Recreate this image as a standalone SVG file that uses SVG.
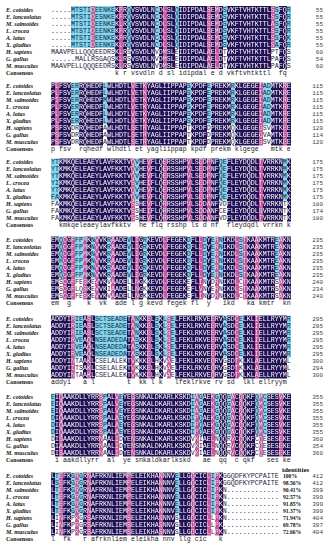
<svg xmlns="http://www.w3.org/2000/svg" xmlns:xlink="http://www.w3.org/1999/xlink" width="332" height="550" viewBox="0 0 332 550" xml:space="preserve">
<style>
.lb{font-family:"Liberation Serif",serif;font-size:6px;font-weight:bold;font-style:italic;fill:#111}
.cl{font-family:"Liberation Serif",serif;font-size:6px;font-weight:bold;fill:#111}
#seqrows text,.cs{font-family:"Liberation Mono",monospace;font-size:6.667px;white-space:pre}
.cs{fill:#222}
.nm{font-family:"Liberation Mono",monospace;font-size:6px;fill:#444;text-anchor:end}
.pc{font-family:"Liberation Serif",serif;font-size:5.6px;font-weight:bold;fill:#111}
.hd{font-family:"Liberation Serif",serif;font-size:7px;font-weight:bold;fill:#111}
.cy{fill:#82d8f1}
</style>
<defs>
<g id="navyR">
<g transform="translate(0,6)"><rect x="115" width="4" height="63"/><rect x="123" width="4" height="63"/><rect x="131" width="24" height="63"/><rect x="159" width="4" height="63"/><rect x="167" width="8" height="63"/><rect x="179" width="28" height="63"/><rect x="211" width="4" height="63"/><rect x="219" width="4" height="63"/><rect x="227" width="44" height="63"/><rect x="279" width="8" height="63"/></g>
<g transform="translate(0,82.5)"><rect x="51" width="4" height="63"/><rect x="59" width="12" height="63"/><rect x="79" width="24" height="63"/><rect x="107" width="24" height="63"/><rect x="135" width="8" height="63"/><rect x="147" width="40" height="63"/><rect x="191" width="16" height="63"/><rect x="211" width="20" height="63"/><rect x="235" width="24" height="63"/><rect x="271" width="12" height="63"/><rect x="287" width="4" height="63"/></g>
<g transform="translate(0,158.5)"><rect x="59" width="72" height="63"/><rect x="139" width="8" height="63"/><rect x="151" width="12" height="63"/><rect x="167" width="20" height="63"/><rect x="191" width="8" height="63"/><rect x="203" width="4" height="63"/><rect x="211" width="8" height="63"/><rect x="227" width="32" height="63"/><rect x="263" width="20" height="63"/><rect x="287" width="4" height="63"/></g>
<g transform="translate(0,236.5)"><rect x="51" width="8" height="63"/><rect x="67" width="4" height="63"/><rect x="87" width="4" height="63"/><rect x="99" width="8" height="63"/><rect x="115" width="12" height="63"/><rect x="131" width="4" height="63"/><rect x="139" width="4" height="63"/><rect x="147" width="16" height="63"/><rect x="167" width="20" height="63"/><rect x="191" width="8" height="63"/><rect x="207" width="4" height="63"/><rect x="223" width="12" height="63"/><rect x="247" width="8" height="63"/><rect x="259" width="16" height="63"/><rect x="283" width="8" height="63"/></g>
<g transform="translate(0,315.5)"><rect x="51" width="20" height="63"/><rect x="83" width="4" height="63"/><rect x="91" width="4" height="63"/><rect x="127" width="4" height="63"/><rect x="139" width="8" height="63"/><rect x="151" width="4" height="63"/><rect x="159" width="4" height="63"/><rect x="175" width="36" height="63"/><rect x="215" width="8" height="63"/><rect x="227" width="8" height="63"/><rect x="243" width="12" height="63"/><rect x="259" width="28" height="63"/></g>
<g transform="translate(0,393.5)"><rect x="55" width="4" height="63"/><rect x="63" width="36" height="63"/><rect x="107" width="8" height="63"/><rect x="123" width="8" height="63"/><rect x="135" width="56" height="63"/><rect x="203" width="8" height="63"/><rect x="219" width="8" height="63"/><rect x="235" width="4" height="63"/><rect x="243" width="12" height="63"/><rect x="267" width="12" height="63"/><rect x="283" width="8" height="63"/></g>
<g transform="translate(0,472.5)"><rect x="51" width="4" height="63"/><rect x="63" width="8" height="63"/><rect x="83" width="4" height="63"/><rect x="91" width="36" height="63"/><rect x="131" width="28" height="63"/><rect x="163" width="12" height="63"/><rect x="179" width="12" height="63"/><rect x="195" width="12" height="63"/><rect x="219" width="4" height="63"/></g>
</g>
<g id="pinkR">
<g transform="translate(0,6)"><rect x="119" width="4" height="63"/><rect x="163" width="4" height="63"/><rect x="207" width="4" height="63"/><rect x="215" width="4" height="63"/><rect x="91" width="4" height="42"/><rect x="271" width="4" height="42"/></g>
<g transform="translate(0,82.5)"><rect x="55" width="4" height="63"/><rect x="131" width="4" height="63"/><rect x="143" width="4" height="63"/><rect x="259" width="4" height="63"/><rect x="283" width="4" height="63"/></g>
<g transform="translate(0,158.5)"><rect x="131" width="4" height="63"/><rect x="147" width="4" height="63"/><rect x="163" width="4" height="63"/><rect x="187" width="4" height="63"/><rect x="199" width="4" height="63"/><rect x="207" width="4" height="63"/><rect x="259" width="4" height="63"/></g>
<g transform="translate(0,236.5)"><rect x="63" width="4" height="63"/><rect x="71" width="4" height="63"/><rect x="83" width="4" height="63"/><rect x="95" width="4" height="63"/><rect x="111" width="4" height="63"/><rect x="135" width="4" height="63"/><rect x="163" width="4" height="63"/><rect x="199" width="4" height="63"/><rect x="215" width="4" height="63"/><rect x="235" width="4" height="63"/><rect x="243" width="4" height="63"/><rect x="255" width="4" height="63"/><rect x="279" width="4" height="63"/></g>
<g transform="translate(0,315.5)"><rect x="71" width="4" height="63"/><rect x="87" width="4" height="63"/><rect x="131" width="4" height="63"/><rect x="147" width="4" height="63"/><rect x="167" width="4" height="63"/><rect x="211" width="4" height="63"/><rect x="235" width="4" height="63"/><rect x="255" width="4" height="63"/></g>
<g transform="translate(0,393.5)"><rect x="59" width="4" height="63"/><rect x="99" width="4" height="63"/><rect x="115" width="4" height="63"/><rect x="131" width="4" height="63"/><rect x="195" width="4" height="63"/><rect x="211" width="4" height="63"/><rect x="231" width="4" height="63"/><rect x="239" width="4" height="63"/><rect x="259" width="4" height="63"/><rect x="279" width="4" height="63"/></g>
<g transform="translate(0,472.5)"><rect x="59" width="4" height="63"/><rect x="75" width="4" height="63"/><rect x="87" width="4" height="63"/><rect x="127" width="4" height="63"/><rect x="159" width="4" height="63"/><rect x="191" width="4" height="63"/><rect x="207" width="4" height="63"/><rect x="215" width="4" height="63"/></g>
</g>
<mask id="mw" maskUnits="userSpaceOnUse" x="0" y="0" width="332" height="550"><use href="#navyR" fill="#fff"/><use href="#pinkR" fill="#fff"/></mask>
<g id="seqrows">
<g transform="translate(0,9.5)">
<text x="51" y="2.3">.....MTSTIDEENKEKFRQVSVDLNCDLSLQIDIPDALSEMDSVKFTVHTKTTLSSFQR</text>
<text x="51" y="9.3">.....MTSTIDESNKEKFRQVSVDLNCDLSLQIDIPDALSEMDSVKFTVHTKTTLSSFQR</text>
<text x="51" y="16.3">.....MTSTIDEENKEKLRQVSVDLNCDLSLQIDIPDALSEMDSVKFTVHTKTTLASFQR</text>
<text x="51" y="23.3">.....MTSTIDEENKEKFRQVSVDLNCDLSLQIDIPDALSEMDSVKFTVHTKTTLSSFQR</text>
<text x="51" y="30.3">.....MTSTIEEENKEKFRQVSVDLNCDLSLQIDIPDALSEMDSVKFTVHTKTTLSSFQK</text>
<text x="51" y="37.3">.....MTSTIDEENKEKLRQVSVDLNCDLSLQIDIPDALSEMDSVKFTVHTKTTLSAFQR</text>
<text x="51" y="44.3">MAAVPELLQQQEEDRSKLRSVSVDLNVDMSLEIDIPDALAELDTVKFTVHTKTTLPTFQS</text>
<text x="51" y="51.3">......MALLRSGAQSKLRSVSVDLNVDMSLEIDIPDALAELDTVKFTVHTKTTLPAFQS</text>
<text x="51" y="58.3">MAAVPELLQQQEEDRSKLRSVSVDLNVDMSLEIDIPDALAELDTVKFTVHTKTTLPAFQS</text>
</g>
<g transform="translate(0,86)">
<text x="51" y="2.3">PLFSVERRQHEDFLWLHDTLVETKYAGLIIPPAPSKPDFEPREKMRKLGEGEIADMTKRE</text>
<text x="51" y="9.3">PLFSVERRQHEDFLWLHDTLVETKYAGLIIPPAPSKPDFEPREKMRKLGEGEIADMTKRE</text>
<text x="51" y="16.3">PIFSVERRQHEDFMWLHDTLVETKYAGLIIPPAPSKPDFEPREKMRKLGEGEIADMTKRE</text>
<text x="51" y="23.3">PLFSVERRQHEDFLWLHDTLVETKYAGLIIPPAPSKPDFEPREKMRKLGEGEIADMTKRE</text>
<text x="51" y="30.3">PLFSVERRQHEDFLWLHDTLVETKYAGLIIPPAPSKPDFEPREKMRKLGEGEIADMTKRE</text>
<text x="51" y="37.3">PLFSVERRQHEDFLWLHDTLVETKYAGLIIPPAPSKPDFEPREKMRKLGEGEIADMTKRE</text>
<text x="51" y="44.3">PSFSVDRRQHEDFAWLHDTLSETRYAGLIIPPAPTKPDFDPREKMQKLGEGEGSVMTKEE</text>
<text x="51" y="51.3">PSFSVDRRQHEDFAWLHDTLSETRYAGLIIPPAPTKPDFDPREKMQKLGEGEGVAMTKEE</text>
<text x="51" y="58.3">PSFSVDRRQHEDFAWLHDTLSETRYAGLIIPPAPTKPDFDPREKMQKLGEGESSVMTKEE</text>
</g>
<g transform="translate(0,162)">
<text x="51" y="2.3">YTKMKQELEAEYLAVFKKTVQVHEVFLQERSSHPVLSEDPNFQEFLEYDQDLTVRRKNMK</text>
<text x="51" y="9.3">YTKMKQELEAEYLAVFKKTVQVHEVFLQERSSHPVLSEDPNFQEFLEYDQDLTVRRKNMK</text>
<text x="51" y="16.3">YTKMKQELEAEYLAVFKKTVQVHEVFLQERSSHPVLSEDPNFQEFLEYDQDLTVRRKNMK</text>
<text x="51" y="23.3">YIKMKQELEAEYLAVFKKTVSVHEIFLQERSSHPVLSEDPNFQEFLEYDQDLTVRRKNMK</text>
<text x="51" y="30.3">YTKMKQELEAEYLAVFKKTVQVHEVFLQERSSHPVLSEDPNFQEFLEYDQDLTVRRKNMK</text>
<text x="51" y="37.3">FAKMKQELEAEYLAVFKKTVQVHEVFLQERSSHPVLSEDPNFQEFLEYDQDLTVRRKNMK</text>
<text x="51" y="44.3">FAKMKQELEAEYLAVFKKTVSSHEVFLQRRSSHPVLSDDANFVDFLEYDQDLTVRRKNTK</text>
<text x="51" y="51.3">FAKMKQELEAEYLAVFKKTVSSHEIFLQRRSSHPVLSDDANFCEFLEYDQDLSVRRKNTK</text>
<text x="51" y="58.3">FAKMKQELEAEYLAVFKKTVSSHEVFLQRRSSHPVLSDDANFVDFLEYDQDLTVRRKNTK</text>
</g>
<g transform="translate(0,240)">
<text x="51" y="2.3">EMQCGFFPMKNVVKRAADEVLIGRKEVDLFEGEKDFLLDYERNIKDLSTKAAKMTREAKN</text>
<text x="51" y="9.3">EMQCGFFPMKNVVKRAADEVLIGRKEVDLFEGEKDFLLDYERNIKDLSTKAAKMTREAKN</text>
<text x="51" y="16.3">EMQCGFFPMKNVVKRAADEVLIGRKEVDLFEGEKDFLLDYERNIKDLSTKAAKMTREAKN</text>
<text x="51" y="23.3">EMHCGFFPMKNVVKRAADEVLIGRKEVDLFEGEKDFLLDYERNIKDLSTKAAKMTREAKN</text>
<text x="51" y="30.3">EMQCGFFPMKNVVKRAADEVLIGRKEVDLFEGEKDFLLDYERNIKDLSTKAAKMTREAKN</text>
<text x="51" y="37.3">EMQCGFFPMKNVVKRAADEVLIGRKEVDLFEGEKDFLLDYERNIKDLSTKAAKMTREAKN</text>
<text x="51" y="44.3">EMSCGFFESKEVVKVAADELLNGKKEVDLFEGEKEFLINYDRNIKDLCTKAAKMTRSAKN</text>
<text x="51" y="51.3">EMSCGFLQSKEVVKIAADELLNGKKEVDLFEGEKEFLVNYERNIKDLSTKAAKMTRSAKN</text>
<text x="51" y="58.3">EMSCGFFESKEVVKVAADELLNGKKEVDLFEGEKEFLINYDRNIKDLCTKAAKMTRSAKN</text>
</g>
<g transform="translate(0,319)">
<text x="51" y="2.3">ADDYIRIEASLSCTSEADETANKKELSKLSELFEKLRKVEERVASDCELKLIELLRYYMR</text>
<text x="51" y="9.3">ADDYIRIEASLSCTSEADETANKKELSKLSELFEKLRKVEERVASDCELKLIELLRYYMR</text>
<text x="51" y="16.3">ADDYIRIEASLSCTSEADETANKKELSKLSELFEKLRKVEERVASDCELKLIELLRYYMR</text>
<text x="51" y="23.3">ADDYIRVEAQLNSEADEDATASKKELSKLSELFEKLRKVEERVASDCELKLIELLRYYMR</text>
<text x="51" y="30.3">ADDYIRVEAQLNSEADEDATASKKELSKLSELFEKLRKVEERVASDCELKLIELLRYYMR</text>
<text x="51" y="37.3">ADDYIRVEAQLNSEADEDATASKKELSKLSELFEKLRKVEERVASDCELKLIELLRYYMR</text>
<text x="51" y="44.3">ADDYINTAAKLCSELALEKTVKKKELHKVAELFEKLRKVEQRVGSDTKLKLAELLRYYML</text>
<text x="51" y="51.3">ADDYIITSAKLCSELALEKTVKKKELHKVAELFEKLRKVEQRVGSDTKLKLAELLRYYML</text>
<text x="51" y="58.3">ADDYINTAAKLCSELALEKTVKKKELHKVAELFEKLRKVEQRVGSDTKLKLAELLRYYML</text>
</g>
<g transform="translate(0,397)">
<text x="51" y="2.3">EIQAAKDLLYRRSPALVEYEGSNKALDKARLKSKDIAGAEKGQQGACQQKFQMCSESVKE</text>
<text x="51" y="9.3">EIQAAKDLLYRRSPALVEYEGSNKALDKARLKSKDIAGAEKGQQGACQQKFQMCSESVKE</text>
<text x="51" y="16.3">EIQAAKDLLYRRSPALVEYEGSNKALDKARLKSKDIAGAEKGQQGACQQKFQMCSESVKE</text>
<text x="51" y="23.3">DIQAAKDLLYRRSPALAEYEGSNKALDKARLKSKDIPQAEKGQQGACQQKFQMCSESVKE</text>
<text x="51" y="30.3">DIQAAKDLLYRRSPALAEYEGSNKALDKARLKSKDIPQAEKGQQGACQQKFQMCSESVKE</text>
<text x="51" y="37.3">DIQAAKDLLYRRSPALAEYEGSNKALDKARLKSKDIPQAEKGQQGACQQKFQMCSESVKE</text>
<text x="51" y="44.3">DISAAKDLLYRRNAALIDYENSNKALDKARLKSKDVKIAELNQQRVCQQKFCQESESEKE</text>
<text x="51" y="51.3">DIAAAKDLLYRRNAALIDYENSNKALDKARLKSKDVKIAELNQQRVCQQKFCQESESEKE</text>
<text x="51" y="58.3">DISAAKDLLYRRNAALIDYENSNKALDKARLKSKDVKIAELNQQRVCQQKFCQESESEKE</text>
</g>
<g transform="translate(0,476)">
<text x="51" y="2.3">LTEFKGRGRNAFRKNLIEMPELEIKHANNNVELLGQCICLIPKGGQDFKYPCPAITE</text>
<text x="51" y="9.3">LSEFKGRGRNAFRKNLIEMPELEIKHANNNVELLGQCICLIPKGGQDFKYPCPAITE</text>
<text x="51" y="16.3">LTEFKGRGRNAFRKNLIEMPELEIKHANNNVELLGQCICLIPKN.............</text>
<text x="51" y="23.3">LTEFKGRGRNAFRKNLIEMPELEIKHANNNVELLGQCICLIPKN.............</text>
<text x="51" y="30.3">LTEFKGRGRNAFRKNLIEMPELEIKHANNNVELLGQCICLIPKN.............</text>
<text x="51" y="37.3">LTEFKGRGRNAFRKNLIEMPELEIKHANNNVELLGQCICLIPKN.............</text>
<text x="51" y="44.3">LINFKPKGRSAFRKNLIEMSELEIKHASNNVSLLGDCICLLPKN.............</text>
<text x="51" y="51.3">LINFKPRGRSAFRKNLIEMSELEIKHASNNVSLLGDCICLLPK..............</text>
<text x="51" y="58.3">LINFKPKGRSAFRKNLIEMSELEIKHASNNVSLLGDCICLLPKN.............</text>
</g>
</g>
</defs>
<rect width="332" height="550" fill="#fff"/>
<g id="shading">
<g id="cyan" class="cy">
<g transform="translate(0,6)"><rect x="71" width="20" height="42"/><rect x="95" width="20" height="42"/><rect x="127" width="4" height="42"/><rect x="155" width="4" height="42"/><rect x="175" width="4" height="42"/><rect x="223" width="4" height="42"/><rect x="275" width="4" height="42"/><rect x="287" width="4" height="42"/></g>
<g transform="translate(0,82.5)"><rect x="71" width="8" height="42"/><rect x="103" width="4" height="42"/><rect x="187" width="4" height="42"/><rect x="207" width="4" height="42"/><rect x="231" width="4" height="42"/><rect x="263" width="8" height="42"/></g>
<g transform="translate(0,158.5)"><rect x="51" width="8" height="42"/><rect x="135" width="4" height="42"/><rect x="219" width="8" height="42"/><rect x="283" width="4" height="42"/></g>
<g transform="translate(0,236.5)"><rect x="59" width="4" height="42"/><rect x="75" width="8" height="42"/><rect x="91" width="4" height="42"/><rect x="107" width="4" height="42"/><rect x="127" width="4" height="42"/><rect x="143" width="4" height="42"/><rect x="187" width="4" height="42"/><rect x="203" width="4" height="42"/><rect x="211" width="4" height="42"/><rect x="219" width="4" height="42"/><rect x="239" width="4" height="42"/><rect x="275" width="4" height="42"/></g>
<g transform="translate(0,315.5)"><rect x="75" width="8" height="42"/><rect x="95" width="32" height="42"/><rect x="135" width="4" height="42"/><rect x="155" width="4" height="42"/><rect x="163" width="4" height="42"/><rect x="171" width="4" height="42"/><rect x="223" width="4" height="42"/><rect x="239" width="4" height="42"/><rect x="287" width="4" height="42"/></g>
<g transform="translate(0,393.5)"><rect x="51" width="4" height="42"/><rect x="103" width="4" height="42"/><rect x="119" width="4" height="42"/><rect x="191" width="4" height="42"/><rect x="199" width="4" height="42"/><rect x="215" width="4" height="42"/><rect x="227" width="4" height="42"/><rect x="255" width="4" height="42"/><rect x="263" width="4" height="42"/></g>
<g transform="translate(0,472.5)"><rect x="55" width="4" height="42"/><rect x="71" width="4" height="42"/><rect x="79" width="4" height="42"/><rect x="175" width="4" height="42"/><rect x="211" width="4" height="42"/></g>
</g>
<use href="#navyR" fill="#22105a"/>
<use href="#pinkR" fill="#e04ea3"/>
</g>
<g id="sequences">
<use href="#seqrows" fill="#1a1a3a"/>
<use href="#seqrows" fill="#ffffff" mask="url(#mw)"/>
</g>
<g id="block1" transform="translate(0,9.5)">
<text class="lb" x="6" y="2.3">E. coioides</text><text class="lb" x="6" y="9.3">E. lanceolatus</text><text class="lb" x="6" y="16.3">M. salmoides</text><text class="lb" x="6" y="23.3">L. crocea</text><text class="lb" x="6" y="30.3">A. latus</text><text class="lb" x="6" y="37.3">X. gladius</text><text class="lb" x="6" y="44.3">H. sapiens</text><text class="lb" x="6" y="51.3">G. gallus</text><text class="lb" x="6" y="58.3">M. musculus</text><text class="cl" x="6" y="65.3">Consensus</text>
<text class="cs" x="51" y="65.3">                k r vsvdln d sl idipdal e d vkftvhtkttl  fq</text>
<text class="nm" x="323" y="2.3">55</text><text class="nm" x="323" y="9.3">55</text><text class="nm" x="323" y="16.3">55</text><text class="nm" x="323" y="23.3">55</text><text class="nm" x="323" y="30.3">55</text><text class="nm" x="323" y="37.3">55</text><text class="nm" x="323" y="44.3">60</text><text class="nm" x="323" y="51.3">54</text><text class="nm" x="323" y="58.3">60</text>
</g>
<g id="block2" transform="translate(0,86)">
<text class="lb" x="6" y="2.3">E. coioides</text><text class="lb" x="6" y="9.3">E. lanceolatus</text><text class="lb" x="6" y="16.3">M. salmoides</text><text class="lb" x="6" y="23.3">L. crocea</text><text class="lb" x="6" y="30.3">A. latus</text><text class="lb" x="6" y="37.3">X. gladius</text><text class="lb" x="6" y="44.3">H. sapiens</text><text class="lb" x="6" y="51.3">G. gallus</text><text class="lb" x="6" y="58.3">M. musculus</text><text class="cl" x="6" y="65.3">Consensus</text>
<text class="cs" x="51" y="65.3">p fsv  rqhedf wlhdtl et yagliippap kpdf prekm klgege   mtk e</text>
<text class="nm" x="323" y="2.3">115</text><text class="nm" x="323" y="9.3">115</text><text class="nm" x="323" y="16.3">115</text><text class="nm" x="323" y="23.3">115</text><text class="nm" x="323" y="30.3">115</text><text class="nm" x="323" y="37.3">115</text><text class="nm" x="323" y="44.3">120</text><text class="nm" x="323" y="51.3">114</text><text class="nm" x="323" y="58.3">120</text>
</g>
<g id="block3" transform="translate(0,162)">
<text class="lb" x="6" y="2.3">E. coioides</text><text class="lb" x="6" y="9.3">E. lanceolatus</text><text class="lb" x="6" y="16.3">M. salmoides</text><text class="lb" x="6" y="23.3">L. crocea</text><text class="lb" x="6" y="30.3">A. latus</text><text class="lb" x="6" y="37.3">X. gladius</text><text class="lb" x="6" y="44.3">H. sapiens</text><text class="lb" x="6" y="51.3">G. gallus</text><text class="lb" x="6" y="58.3">M. musculus</text><text class="cl" x="6" y="65.3">Consensus</text>
<text class="cs" x="51" y="65.3">  kmkqeleaeylavfkktv  he flq rsshp ls d nf  fleydqdl vrrkn k</text>
<text class="nm" x="323" y="2.3">175</text><text class="nm" x="323" y="9.3">175</text><text class="nm" x="323" y="16.3">175</text><text class="nm" x="323" y="23.3">175</text><text class="nm" x="323" y="30.3">175</text><text class="nm" x="323" y="37.3">175</text><text class="nm" x="323" y="44.3">180</text><text class="nm" x="323" y="51.3">174</text><text class="nm" x="323" y="58.3">180</text>
</g>
<g id="block4" transform="translate(0,240)">
<text class="lb" x="6" y="2.3">E. coioides</text><text class="lb" x="6" y="9.3">E. lanceolatus</text><text class="lb" x="6" y="16.3">M. salmoides</text><text class="lb" x="6" y="23.3">L. crocea</text><text class="lb" x="6" y="30.3">A. latus</text><text class="lb" x="6" y="37.3">X. gladius</text><text class="lb" x="6" y="44.3">H. sapiens</text><text class="lb" x="6" y="51.3">G. gallus</text><text class="lb" x="6" y="58.3">M. musculus</text><text class="cl" x="6" y="65.3">Consensus</text>
<text class="cs" x="51" y="65.3">em  g    k  vk  ade l g kevd fegek fl  y   ikd   ka kmtr  kn</text>
<text class="nm" x="323" y="2.3">235</text><text class="nm" x="323" y="9.3">235</text><text class="nm" x="323" y="16.3">235</text><text class="nm" x="323" y="23.3">235</text><text class="nm" x="323" y="30.3">235</text><text class="nm" x="323" y="37.3">235</text><text class="nm" x="323" y="44.3">240</text><text class="nm" x="323" y="51.3">234</text><text class="nm" x="323" y="58.3">240</text>
</g>
<g id="block5" transform="translate(0,319)">
<text class="lb" x="6" y="2.3">E. coioides</text><text class="lb" x="6" y="9.3">E. lanceolatus</text><text class="lb" x="6" y="16.3">M. salmoides</text><text class="lb" x="6" y="23.3">L. crocea</text><text class="lb" x="6" y="30.3">A. latus</text><text class="lb" x="6" y="37.3">X. gladius</text><text class="lb" x="6" y="44.3">H. sapiens</text><text class="lb" x="6" y="51.3">G. gallus</text><text class="lb" x="6" y="58.3">M. musculus</text><text class="cl" x="6" y="65.3">Consensus</text>
<text class="cs" x="51" y="65.3">addyi   a l        t  kk l k   lfeklrkve rv sd  lkl ellryym</text>
<text class="nm" x="323" y="2.3">295</text><text class="nm" x="323" y="9.3">295</text><text class="nm" x="323" y="16.3">295</text><text class="nm" x="323" y="23.3">295</text><text class="nm" x="323" y="30.3">295</text><text class="nm" x="323" y="37.3">295</text><text class="nm" x="323" y="44.3">300</text><text class="nm" x="323" y="51.3">294</text><text class="nm" x="323" y="58.3">300</text>
</g>
<g id="block6" transform="translate(0,397)">
<text class="lb" x="6" y="2.3">E. coioides</text><text class="lb" x="6" y="9.3">E. lanceolatus</text><text class="lb" x="6" y="16.3">M. salmoides</text><text class="lb" x="6" y="23.3">L. crocea</text><text class="lb" x="6" y="30.3">A. latus</text><text class="lb" x="6" y="37.3">X. gladius</text><text class="lb" x="6" y="44.3">H. sapiens</text><text class="lb" x="6" y="51.3">G. gallus</text><text class="lb" x="6" y="58.3">M. musculus</text><text class="cl" x="6" y="65.3">Consensus</text>
<text class="cs" x="51" y="65.3"> i aakdllyrr  al  ye snkaldkarlkskd   ae  qq  c qkf   ses ke</text>
<text class="nm" x="323" y="2.3">355</text><text class="nm" x="323" y="9.3">355</text><text class="nm" x="323" y="16.3">355</text><text class="nm" x="323" y="23.3">355</text><text class="nm" x="323" y="30.3">355</text><text class="nm" x="323" y="37.3">355</text><text class="nm" x="323" y="44.3">360</text><text class="nm" x="323" y="51.3">354</text><text class="nm" x="323" y="58.3">360</text>
</g>
<g id="block7" transform="translate(0,476)">
<text class="hd" x="282" y="-4.5">identities</text>
<text class="lb" x="6" y="2.3">E. coioides</text><text class="lb" x="6" y="9.3">E. lanceolatus</text><text class="lb" x="6" y="16.3">M. salmoides</text><text class="lb" x="6" y="23.3">L. crocea</text><text class="lb" x="6" y="30.3">A. latus</text><text class="lb" x="6" y="37.3">X. gladius</text><text class="lb" x="6" y="44.3">H. sapiens</text><text class="lb" x="6" y="51.3">G. gallus</text><text class="lb" x="6" y="58.3">M. musculus</text><text class="cl" x="6" y="65.3">Consensus</text>
<text class="cs" x="51" y="65.3">l  fk   r afrknliem eleikha nnv llg cic   k</text>
<text class="pc" x="283" y="2.3">100%</text><text class="pc" x="283" y="9.3">98.56%</text><text class="pc" x="283" y="16.3">90.41%</text><text class="pc" x="283" y="23.3">92.57%</text><text class="pc" x="283" y="30.3">91.85%</text><text class="pc" x="283" y="37.3">91.37%</text><text class="pc" x="283" y="44.3">71.94%</text><text class="pc" x="283" y="51.3">69.78%</text><text class="pc" x="283" y="58.3">72.66%</text>
<text class="nm" x="323" y="2.3">412</text><text class="nm" x="323" y="9.3">412</text><text class="nm" x="323" y="16.3">399</text><text class="nm" x="323" y="23.3">399</text><text class="nm" x="323" y="30.3">399</text><text class="nm" x="323" y="37.3">399</text><text class="nm" x="323" y="44.3">404</text><text class="nm" x="323" y="51.3">397</text><text class="nm" x="323" y="58.3">404</text>
</g>
</svg>
